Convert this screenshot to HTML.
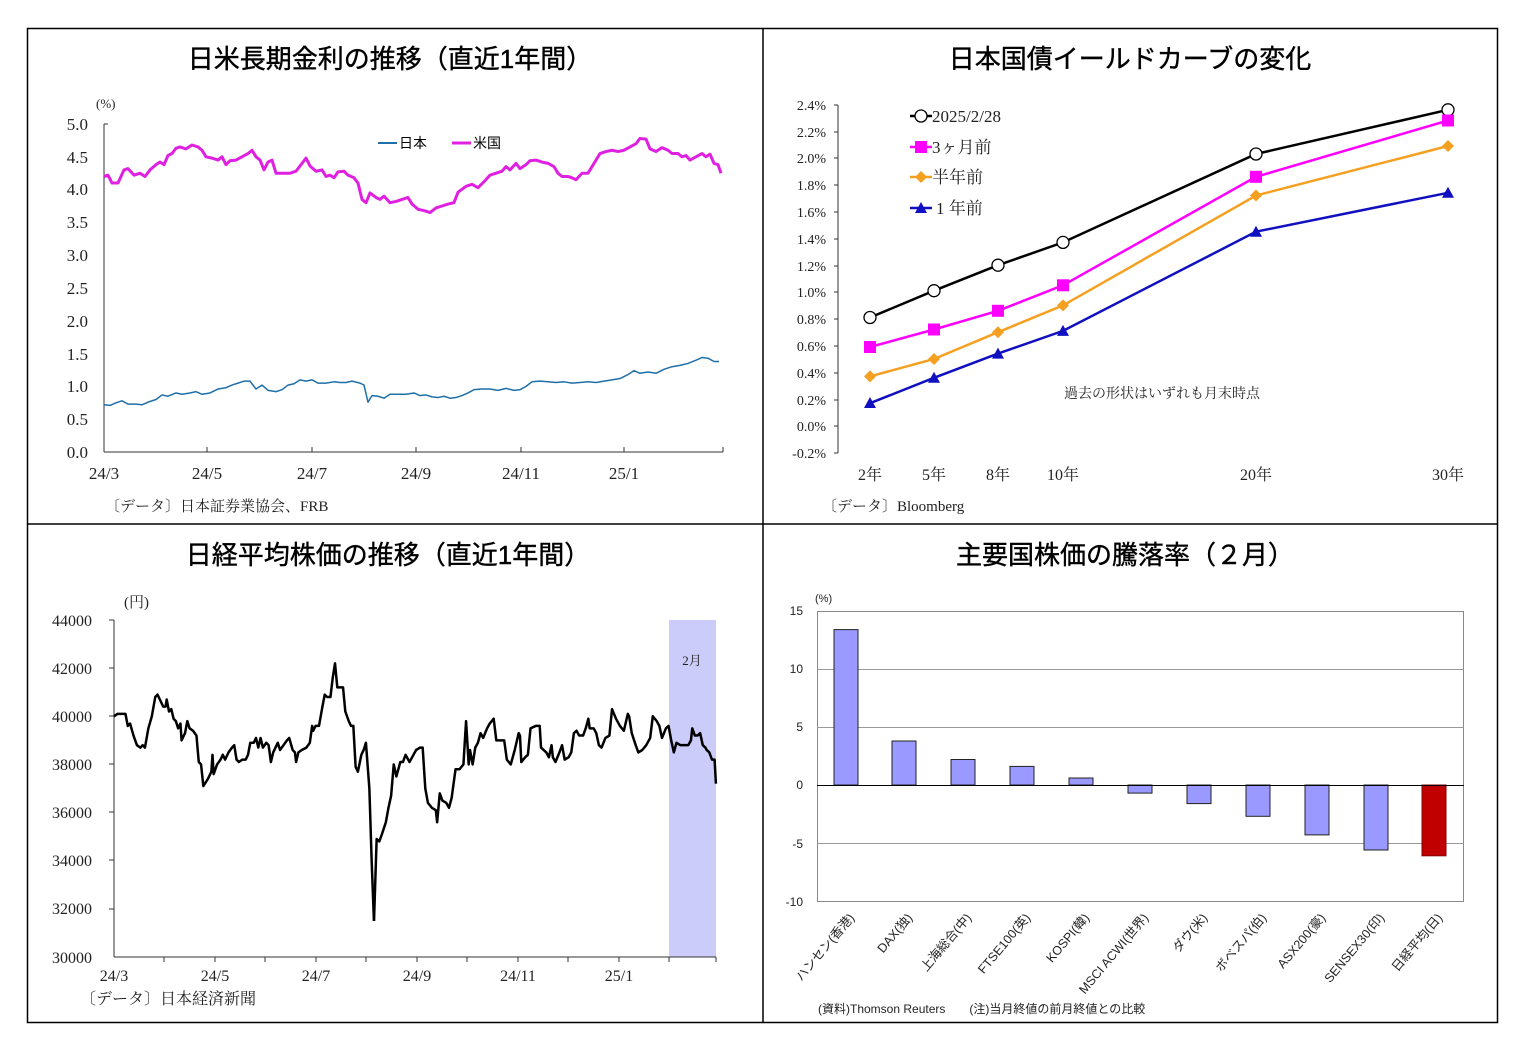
<!DOCTYPE html>
<html><head><meta charset="utf-8"><style>
body{margin:0;background:#fff;}
svg{display:block;font-family:"Liberation Serif","Noto Serif CJK SC","Noto Sans CJK JP",serif;}
.t{font-family:"Liberation Sans","Noto Sans CJK JP",sans-serif;font-size:26px;text-anchor:middle;stroke:#000;stroke-width:0.4;}
.s{font-family:"Liberation Sans","Noto Sans CJK JP",sans-serif;}
</style></head><body>
<svg width="1525" height="1056" viewBox="0 0 1525 1056">
<rect x="0" y="0" width="1525" height="1056" fill="#fff"/>
<rect x="27.5" y="28.5" width="1470" height="994" fill="none" stroke="#000" stroke-width="1.5"/>
<line x1="763" y1="28" x2="763" y2="1022" stroke="#000" stroke-width="1.5"/>
<line x1="27" y1="524" x2="1497" y2="524" stroke="#000" stroke-width="1.5"/>

<text class="t" x="390" y="68">日米長期金利の推移（直近1年間）</text>
<text class="t" x="1130" y="68">日本国債イールドカーブの変化</text>
<text class="t" x="388" y="564">日経平均株価の推移（直近1年間）</text>
<text class="t" x="1125" y="564">主要国株価の騰落率（２月）</text>

<!-- Chart 1 -->
<g font-size="17" fill="#222">
<text x="96" y="108" font-size="13">(%)</text>
<g text-anchor="end">
<text x="88" y="130">5.0</text><text x="88" y="163">4.5</text><text x="88" y="195">4.0</text>
<text x="88" y="228">3.5</text><text x="88" y="261">3.0</text><text x="88" y="294">2.5</text>
<text x="88" y="327">2.0</text><text x="88" y="360">1.5</text><text x="88" y="392">1.0</text>
<text x="88" y="425">0.5</text><text x="88" y="458">0.0</text>
</g>
<g text-anchor="middle">
<text x="104" y="479">24/3</text><text x="207" y="479">24/5</text><text x="312" y="479">24/7</text>
<text x="416" y="479">24/9</text><text x="521" y="479">24/11</text><text x="624" y="479">25/1</text>
</g>
<text x="105" y="511" font-size="15">〔データ〕日本証券業協会、FRB</text>
</g>
<g stroke="#333" stroke-width="1">
<line x1="104" y1="124" x2="104" y2="452"/><line x1="104" y1="452" x2="723" y2="452"/>
<line x1="104" y1="124" x2="108" y2="124"/>
<line x1="207" y1="452" x2="207" y2="447"/><line x1="312" y1="452" x2="312" y2="447"/>
<line x1="416" y1="452" x2="416" y2="447"/><line x1="521" y1="452" x2="521" y2="447"/>
<line x1="624" y1="452" x2="624" y2="447"/><line x1="723" y1="452" x2="723" y2="447"/>
</g>
<line x1="378" y1="143" x2="397" y2="143" stroke="#1f6fa8" stroke-width="2"/>
<text x="399" y="148" font-size="14" class="s">日本</text>
<line x1="452" y1="143" x2="471" y2="143" stroke="#e020e0" stroke-width="3"/>
<text x="473" y="148" font-size="14" class="s">米国</text>
<g transform="translate(0,452) scale(1,-65.6)" fill="none">
<polyline vector-effect="non-scaling-stroke" stroke="#e020e0" stroke-width="3" stroke-linejoin="round" points="104,4.2 108,4.22 112,4.1 118,4.1 124,4.3 128,4.32 134,4.22 140,4.25 145,4.2 150,4.3 156,4.38 160,4.42 164,4.38 168,4.52 172,4.55 176,4.63 180,4.65 186,4.62 192,4.68 198,4.65 202,4.6 206,4.5 212,4.48 218,4.45 222,4.5 226,4.38 230,4.44 236,4.45 242,4.5 248,4.55 252,4.6 256,4.5 260,4.45 264,4.3 268,4.42 272,4.45 276,4.25 282,4.25 290,4.25 296,4.28 302,4.4 306,4.48 310,4.36 316,4.28 322,4.3 326,4.2 330,4.22 334,4.18 338,4.27 344,4.28 348,4.22 354,4.18 358,4.1 362,3.85 366,3.8 370,3.95 376,3.88 380,3.85 384,3.9 390,3.8 396,3.82 402,3.85 408,3.88 412,3.78 418,3.7 424,3.68 430,3.65 436,3.72 442,3.75 448,3.78 454,3.8 458,3.96 466,4.05 472,4.08 478,4.03 484,4.12 490,4.22 496,4.25 502,4.28 506,4.35 510,4.3 516,4.4 520,4.32 526,4.38 530,4.44 536,4.45 542,4.42 548,4.4 554,4.35 558,4.25 562,4.2 568,4.2 572,4.18 576,4.15 582,4.25 588,4.25 594,4.4 600,4.55 606,4.58 612,4.6 618,4.58 624,4.6 630,4.65 636,4.7 640,4.78 646,4.77 650,4.62 656,4.58 662,4.64 668,4.6 672,4.55 678,4.55 682,4.5 686,4.52 690,4.45 696,4.5 702,4.55 706,4.5 710,4.54 714,4.4 718,4.38 721,4.25"/>
<polyline vector-effect="non-scaling-stroke" stroke="#1f6fa8" stroke-width="1.5" stroke-linejoin="round" points="104,0.72 110,0.71 116,0.75 122,0.78 128,0.73 136,0.73 142,0.72 148,0.76 156,0.8 162,0.87 168,0.85 176,0.9 182,0.88 190,0.9 196,0.92 202,0.88 210,0.9 218,0.96 226,0.98 232,1.02 238,1.05 244,1.08 250,1.08 256,0.96 262,1.02 268,0.94 276,0.92 282,0.95 288,1.02 294,1.04 300,1.1 306,1.08 312,1.1 318,1.05 326,1.05 334,1.07 340,1.06 346,1.06 352,1.08 360,1.05 364,1.02 368,0.76 372,0.86 378,0.85 384,0.82 390,0.88 398,0.88 406,0.88 414,0.9 420,0.86 426,0.87 432,0.84 438,0.83 444,0.85 450,0.82 456,0.83 462,0.86 468,0.9 474,0.95 482,0.96 490,0.96 498,0.94 506,0.97 514,0.94 520,0.95 526,1.0 532,1.07 540,1.08 548,1.07 556,1.06 564,1.07 572,1.05 580,1.06 588,1.07 596,1.06 604,1.08 612,1.1 620,1.12 628,1.18 634,1.24 640,1.2 648,1.22 656,1.2 664,1.26 672,1.3 680,1.32 688,1.35 696,1.4 702,1.44 708,1.43 714,1.38 719,1.38"/>
</g>

<!-- Chart 2 -->
<g font-size="14" fill="#222" text-anchor="end">
<text x="826" y="110">2.4%</text><text x="826" y="137">2.2%</text><text x="826" y="163">2.0%</text>
<text x="826" y="190">1.8%</text><text x="826" y="217">1.6%</text><text x="826" y="244">1.4%</text>
<text x="826" y="271">1.2%</text><text x="826" y="297">1.0%</text><text x="826" y="324">0.8%</text>
<text x="826" y="351">0.6%</text><text x="826" y="378">0.4%</text><text x="826" y="405">0.2%</text>
<text x="826" y="431">0.0%</text><text x="826" y="458">-0.2%</text>
</g>
<g stroke="#333" stroke-width="1">
<line x1="838" y1="105" x2="838" y2="453"/>
<line x1="834" y1="105" x2="838" y2="105"/><line x1="834" y1="132" x2="838" y2="132"/><line x1="834" y1="158" x2="838" y2="158"/>
<line x1="834" y1="185" x2="838" y2="185"/><line x1="834" y1="212" x2="838" y2="212"/><line x1="834" y1="239" x2="838" y2="239"/>
<line x1="834" y1="266" x2="838" y2="266"/><line x1="834" y1="292" x2="838" y2="292"/><line x1="834" y1="319" x2="838" y2="319"/>
<line x1="834" y1="346" x2="838" y2="346"/><line x1="834" y1="373" x2="838" y2="373"/><line x1="834" y1="400" x2="838" y2="400"/>
<line x1="834" y1="426" x2="838" y2="426"/><line x1="834" y1="453" x2="838" y2="453"/>
</g>
<g font-size="16" fill="#222" text-anchor="middle">
<text x="870" y="480">2年</text><text x="934" y="480">5年</text><text x="998" y="480">8年</text>
<text x="1063" y="480">10年</text><text x="1256" y="480">20年</text><text x="1448" y="480">30年</text>
</g>
<text x="1162" y="398" font-size="14" fill="#222" text-anchor="middle">過去の形状はいずれも月末時点</text>
<text x="822" y="511" font-size="15" fill="#222">〔データ〕Bloomberg</text>
<g fill="none" stroke-width="2.5">
<polyline stroke="#000" points="870,317.5 934,290.7 998,265.2 1063,242.4 1256,154 1448,109.8"/>
<polyline stroke="#ff00ff" points="870,347 934,329.5 998,310.8 1063,285.3 1256,176.8 1448,120.5"/>
<polyline stroke="#f5a020" points="870,376.4 934,359 998,332.2 1063,305.4 1256,195.5 1448,146"/>
<polyline stroke="#1010c0" points="870,403.2 934,377.8 998,353.6 1063,330.9 1256,231.7 1448,192.8"/>
</g>
<g fill="#fff" stroke="#000" stroke-width="1.3">
<circle cx="870" cy="317.5" r="6"/><circle cx="934" cy="290.7" r="6"/><circle cx="998" cy="265.2" r="6"/>
<circle cx="1063" cy="242.4" r="6"/><circle cx="1256" cy="154" r="6"/><circle cx="1448" cy="109.8" r="6"/>
</g>
<g fill="#ff00ff">
<rect x="864" y="341" width="12" height="12"/><rect x="928" y="323.5" width="12" height="12"/><rect x="992" y="304.8" width="12" height="12"/>
<rect x="1057" y="279.3" width="12" height="12"/><rect x="1250" y="170.8" width="12" height="12"/><rect x="1442" y="114.5" width="12" height="12"/>
</g>
<g fill="#f5a020">
<polygon points="870,370.4 876,376.4 870,382.4 864,376.4"/><polygon points="934,353 940,359 934,365 928,359"/>
<polygon points="998,326.2 1004,332.2 998,338.2 992,332.2"/><polygon points="1063,299.4 1069,305.4 1063,311.4 1057,305.4"/>
<polygon points="1256,189.5 1262,195.5 1256,201.5 1250,195.5"/><polygon points="1448,140 1454,146 1448,152 1442,146"/>
</g>
<g fill="#1010c0">
<polygon points="870,397 876,408 864,408"/><polygon points="934,371.8 940,382.8 928,382.8"/>
<polygon points="998,347.6 1004,358.6 992,358.6"/><polygon points="1063,324.9 1069,335.9 1057,335.9"/>
<polygon points="1256,225.7 1262,236.7 1250,236.7"/><polygon points="1448,186.8 1454,197.8 1442,197.8"/>
</g>
<g font-size="17" fill="#222">
<line x1="910" y1="116" x2="932" y2="116" stroke="#000" stroke-width="2.5"/><circle cx="921" cy="116" r="6" fill="#fff" stroke="#000" stroke-width="1.3"/>
<text x="932" y="122">2025/2/28</text>
<line x1="910" y1="147" x2="932" y2="147" stroke="#ff00ff" stroke-width="2.5"/><rect x="915" y="141" width="12" height="12" fill="#ff00ff"/>
<text x="932" y="153">3ヶ月前</text>
<line x1="910" y1="177" x2="932" y2="177" stroke="#f5a020" stroke-width="2.5"/><polygon points="921,171 927,177 921,183 915,177" fill="#f5a020"/>
<text x="932" y="183">半年前</text>
<line x1="910" y1="208" x2="932" y2="208" stroke="#1010c0" stroke-width="2.5"/><polygon points="921,202 927,213 915,213" fill="#1010c0"/>
<text x="936" y="214">1 年前</text>
</g>

<!-- Chart 3 -->
<rect x="669" y="620" width="47" height="337" fill="#ccccfa"/>
<text x="692" y="665" font-size="13" fill="#222" text-anchor="middle">2月</text>
<g font-size="16" fill="#222">
<text x="124" y="607" font-size="15">(円)</text>
<g text-anchor="end">
<text x="92" y="626">44000</text><text x="92" y="674">42000</text><text x="92" y="722">40000</text>
<text x="92" y="770">38000</text><text x="92" y="818">36000</text><text x="92" y="866">34000</text>
<text x="92" y="914">32000</text><text x="92" y="963">30000</text>
</g>
<g text-anchor="middle">
<text x="114" y="981">24/3</text><text x="215" y="981">24/5</text><text x="316" y="981">24/7</text>
<text x="417" y="981">24/9</text><text x="518" y="981">24/11</text><text x="619" y="981">25/1</text>
</g>
<text x="80" y="1004" font-size="16">〔データ〕日本経済新聞</text>
</g>
<g stroke="#333" stroke-width="1">
<line x1="114" y1="620" x2="114" y2="957"/><line x1="114" y1="957" x2="716" y2="957"/>
<line x1="109" y1="620" x2="114" y2="620"/><line x1="109" y1="668" x2="114" y2="668"/><line x1="109" y1="716" x2="114" y2="716"/>
<line x1="109" y1="764" x2="114" y2="764"/><line x1="109" y1="812" x2="114" y2="812"/><line x1="109" y1="860" x2="114" y2="860"/>
<line x1="109" y1="909" x2="114" y2="909"/>
<line x1="164" y1="957" x2="164" y2="962"/><line x1="215" y1="957" x2="215" y2="962"/><line x1="265" y1="957" x2="265" y2="962"/>
<line x1="316" y1="957" x2="316" y2="962"/><line x1="366" y1="957" x2="366" y2="962"/><line x1="417" y1="957" x2="417" y2="962"/>
<line x1="467" y1="957" x2="467" y2="962"/><line x1="518" y1="957" x2="518" y2="962"/><line x1="568" y1="957" x2="568" y2="962"/>
<line x1="619" y1="957" x2="619" y2="962"/><line x1="669" y1="957" x2="669" y2="962"/><line x1="716" y1="957" x2="716" y2="962"/>
</g>
<g transform="translate(-16.5,1679.1) scale(1.145,-24.07)">
<polyline vector-effect="non-scaling-stroke" fill="none" stroke="#000" stroke-width="2.5" stroke-linejoin="round" points="114,40.0 117,40.1 120,40.1 124,40.1 126,39.6 128,39.7 131,39.2 134,38.8 137,38.7 139,38.8 141,38.7 144,39.5 147,40.0 150,40.8 152,40.9 155,40.6 157,40.4 159,40.4 160,40.7 162,40.2 164,40.3 166,39.9 168,39.8 170,39.5 172,39.7 173,39.0 176,39.3 178,39.8 180,39.5 183,39.4 186,39.2 188,38.1 190,38.0 192,37.1 196,37.4 199,37.7 200,38.4 201,37.6 204,38.0 207,38.2 209,38.4 211,38.2 214,38.5 217,38.7 219,38.8 221,38.2 223,38.1 226,38.2 229,38.2 231,38.4 233,38.9 236,38.9 238,39.1 240,38.7 242,39.1 244,38.7 247,38.9 249,38.8 251,38.1 253,38.5 257,38.9 259,38.6 262,38.8 265,39.0 267,39.1 270,38.6 272,38.5 273,38.1 275,38.5 278,38.6 282,38.7 285,38.9 287,39.6 288,39.4 290,39.6 293,39.6 296,40.4 298,40.9 300,40.8 303,40.8 305,41.6 307,42.2 309,41.2 312,41.2 314,41.2 316,40.2 319,39.8 321,39.6 323,39.6 325,37.9 327,37.7 330,38.4 332,38.6 334,38.9 337,37.0 339,34.0 341,31.5"/>
</g>
<g transform="translate(-74.4,1679.1) scale(1.315,-24.07)">
<polyline vector-effect="non-scaling-stroke" fill="none" stroke="#000" stroke-width="2.5" stroke-linejoin="round" points="341,31.5 343,34.9 345,34.8 347,35.1 350,35.6 352,36.2 354,36.7 356,38.0 358,37.5 361,38.1 363,38.1 365,38.4 368,38.1 371,38.4 373,38.6 376,38.7 378,38.7 380,37.0 382,36.4 385,36.2 388,36.1 389,35.6 391,36.8 393,36.5 396,36.4 398,36.2 400,36.6 403,37.8 406,37.8 409,38.0 411,39.8 413,38.0 414,38.6 416,38.0 418,38.7 420,38.9 422,39.3 424,39.1 427,39.5 429,39.7 432,39.9 434,39.0 437,39.0 440,39.0 442,38.2 445,38.0 448,38.6 451,39.3 452,39.2 453,38.1 456,38.3 458,38.4 460,39.5 464,39.6 467,39.6 468,38.7 470,38.6 472,38.5 474,38.3 476,38.8 477,38.3 479,38.1 482,38.5 484,38.8 486,38.2 489,38.3 491,38.5 493,39.3 495,39.4 497,39.2 500,39.2 502,39.5 504,39.9 505,39.5 508,39.5 510,39.3 512,38.8 514,38.7 517,39.1 520,39.2 522,40.3 525,39.9 528,39.6 531,39.4 534,40.1 535,40.0 537,39.3 540,38.8 542,38.5 545,38.6 548,38.8 551,39.1 553,40.0 556,39.8 558,39.6 560,39.1 563,39.5 565,39.6 567,39.0 569,38.5 571,38.9 574,38.8 577,38.8 580,38.8 582,39.0 583,39.5 585,39.2 587,39.2 589,39.3 591,38.8 593,38.7 594,38.6 596,38.5 598,38.2 600,38.2 601,37.2"/>
</g>

<!-- Chart 4 -->
<g class="s" font-size="12" fill="#222">
<text x="815" y="602" font-size="11">(%)</text>
<g text-anchor="end">
<text x="803" y="615">15</text><text x="803" y="673">10</text><text x="803" y="731">5</text>
<text x="803" y="789">0</text><text x="803" y="848">-5</text><text x="803" y="906">-10</text>
</g>
<text x="818" y="1013">(資料)Thomson Reuters　　(注)当月終値の前月終値との比較</text>
</g>
<rect x="817.5" y="611.5" width="646" height="290" fill="none" stroke="#888" stroke-width="1"/>
<g stroke="#999" stroke-width="1">
<line x1="817" y1="669.5" x2="1464" y2="669.5"/><line x1="817" y1="727.5" x2="1464" y2="727.5"/>
<line x1="817" y1="843.5" x2="1464" y2="843.5"/>
</g>
<g fill="#9999ff" stroke="#222" stroke-width="1">
<rect x="834" y="629.6" width="24" height="155.4"/>
<rect x="892" y="741" width="24" height="44"/>
<rect x="951" y="759.5" width="24" height="25.5"/>
<rect x="1010" y="766.4" width="24" height="18.6"/>
<rect x="1069" y="778" width="24" height="7"/>
<rect x="1128" y="785" width="24" height="8.1"/>
<rect x="1187" y="785" width="24" height="18.6"/>
<rect x="1246" y="785" width="24" height="31.3"/>
<rect x="1305" y="785" width="24" height="49.9"/>
<rect x="1364" y="785" width="24" height="65"/>
</g>
<rect x="1422" y="785" width="24" height="70.8" fill="#c00000" stroke="#800" stroke-width="1"/>
<line x1="817" y1="785.5" x2="1464" y2="785.5" stroke="#000" stroke-width="1"/>
<g class="s" font-size="12.5" fill="#222" text-anchor="end">
<text transform="translate(855,918) rotate(-50)">ハンセン(香港)</text>
<text transform="translate(913,918) rotate(-50)">DAX(独)</text>
<text transform="translate(972,918) rotate(-50)">上海総合(中)</text>
<text transform="translate(1031,918) rotate(-50)">FTSE100(英)</text>
<text transform="translate(1090,918) rotate(-50)">KOSPI(韓)</text>
<text transform="translate(1149,918) rotate(-50)">MSCI ACWI(世界)</text>
<text transform="translate(1208,918) rotate(-50)">ダウ(米)</text>
<text transform="translate(1267,918) rotate(-50)">ボベスパ(伯)</text>
<text transform="translate(1326,918) rotate(-50)">ASX200(豪)</text>
<text transform="translate(1385,918) rotate(-50)">SENSEX30(印)</text>
<text transform="translate(1443,918) rotate(-50)">日経平均(日)</text>
</g>
</svg>
</body></html>
